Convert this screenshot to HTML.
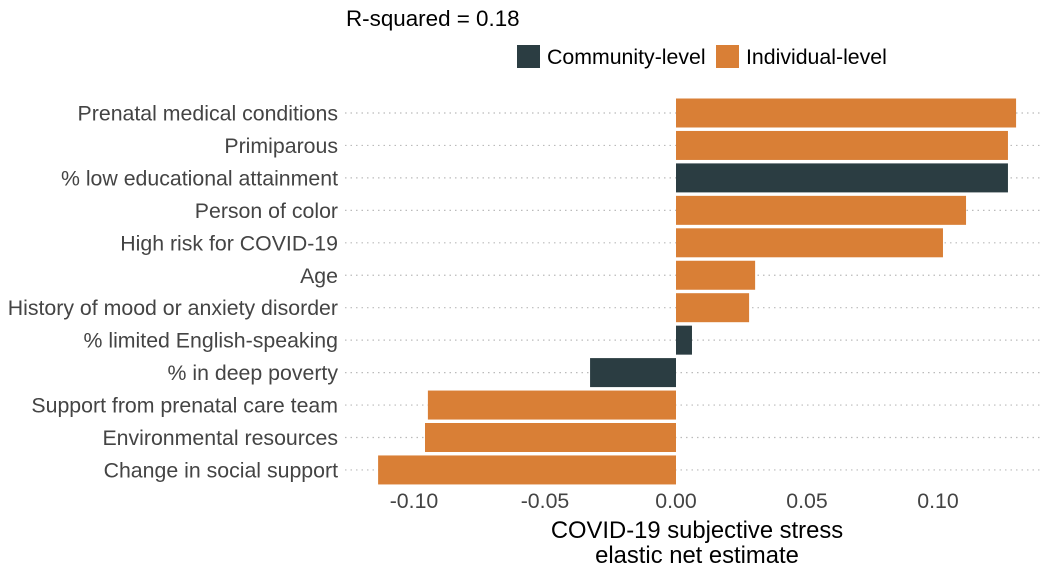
<!DOCTYPE html>
<html><head><meta charset="utf-8"><style>
body{margin:0;background:#fff;font-family:"Liberation Sans",sans-serif}
</style></head><body>
<svg id="chart" width="1056" height="576" xmlns="http://www.w3.org/2000/svg" font-family="Liberation Sans, sans-serif">
<text x="346" y="26" font-size="22.4" fill="#000">R-squared = 0.18</text>
<g>
<rect x="517" y="45" width="23" height="23" fill="#2B3D42"/>
<text x="547" y="64" font-size="21.3" fill="#000">Community-level</text>
<rect x="716" y="45" width="23" height="23" fill="#D97F36"/>
<text x="746" y="64" font-size="21.3" fill="#000">Individual-level</text>
</g>
<g id="grid"></g><g id="bars"></g><g id="ylabels"></g><g id="xticks"></g>
<text text-anchor="middle" x="697" y="538" font-size="23.8" fill="#000">COVID-19 subjective stress</text>
<text text-anchor="middle" x="697" y="563" font-size="23.8" fill="#000">elastic net estimate</text>
</svg>
<script>
const categories=["Prenatal medical conditions","Primiparous","% low educational attainment","Person of color","High risk for COVID-19","Age","History of mood or anxiety disorder","% limited English-speaking","% in deep poverty","Support from prenatal care team","Environmental resources","Change in social support"];
const values=[0.1298,0.1267,0.1267,0.1107,0.1019,0.0302,0.0279,0.0061,-0.0328,-0.0947,-0.0958,-0.1137];
const levels=["Individual","Individual","Community","Individual","Individual","Individual","Individual","Community","Community","Individual","Individual","Individual"];
const xTicks=[-0.10,-0.05,0.00,0.05,0.10];
const xTickLabels=["-0.10","-0.05","0.00","0.05","0.10"];
const NS="http://www.w3.org/2000/svg";
const x=v=>676+v*2620;
const y=i=>113+i*32.45;
function mk(t,a,p){const e=document.createElementNS(NS,t);for(const k in a)e.setAttribute(k,a[k]);p.appendChild(e);return e;}
const g=document.getElementById('grid'),b=document.getElementById('bars'),yl=document.getElementById('ylabels'),xt=document.getElementById('xticks');
categories.forEach((c,i)=>{
 const l=mk('line',{x1:345,x2:1040,y1:y(i),y2:y(i),stroke:'#bbb','stroke-width':1.2,'stroke-dasharray':'1.5,4'},g);
 
 
 const v=values[i];
 const r=mk('rect',{x:Math.min(x(0),x(v)),y:y(i)-14.5,width:Math.abs(x(v)-x(0)),height:29,fill:levels[i]=="Community"?'#2B3D42':'#D97F36'},b);
 
 
 const t=mk('text',{x:338,y:y(i)+7.5,'text-anchor':'end','font-size':21.3,fill:'#444'},yl);
 t.textContent=c;
 
 
});
xTicks.forEach((v,i)=>{
 const t=mk('text',{x:x(v),y:508,'text-anchor':'middle','font-size':21.3,fill:'#444'},xt);
 t.textContent=xTickLabels[i];
 
 
});
</script>
</body></html>
